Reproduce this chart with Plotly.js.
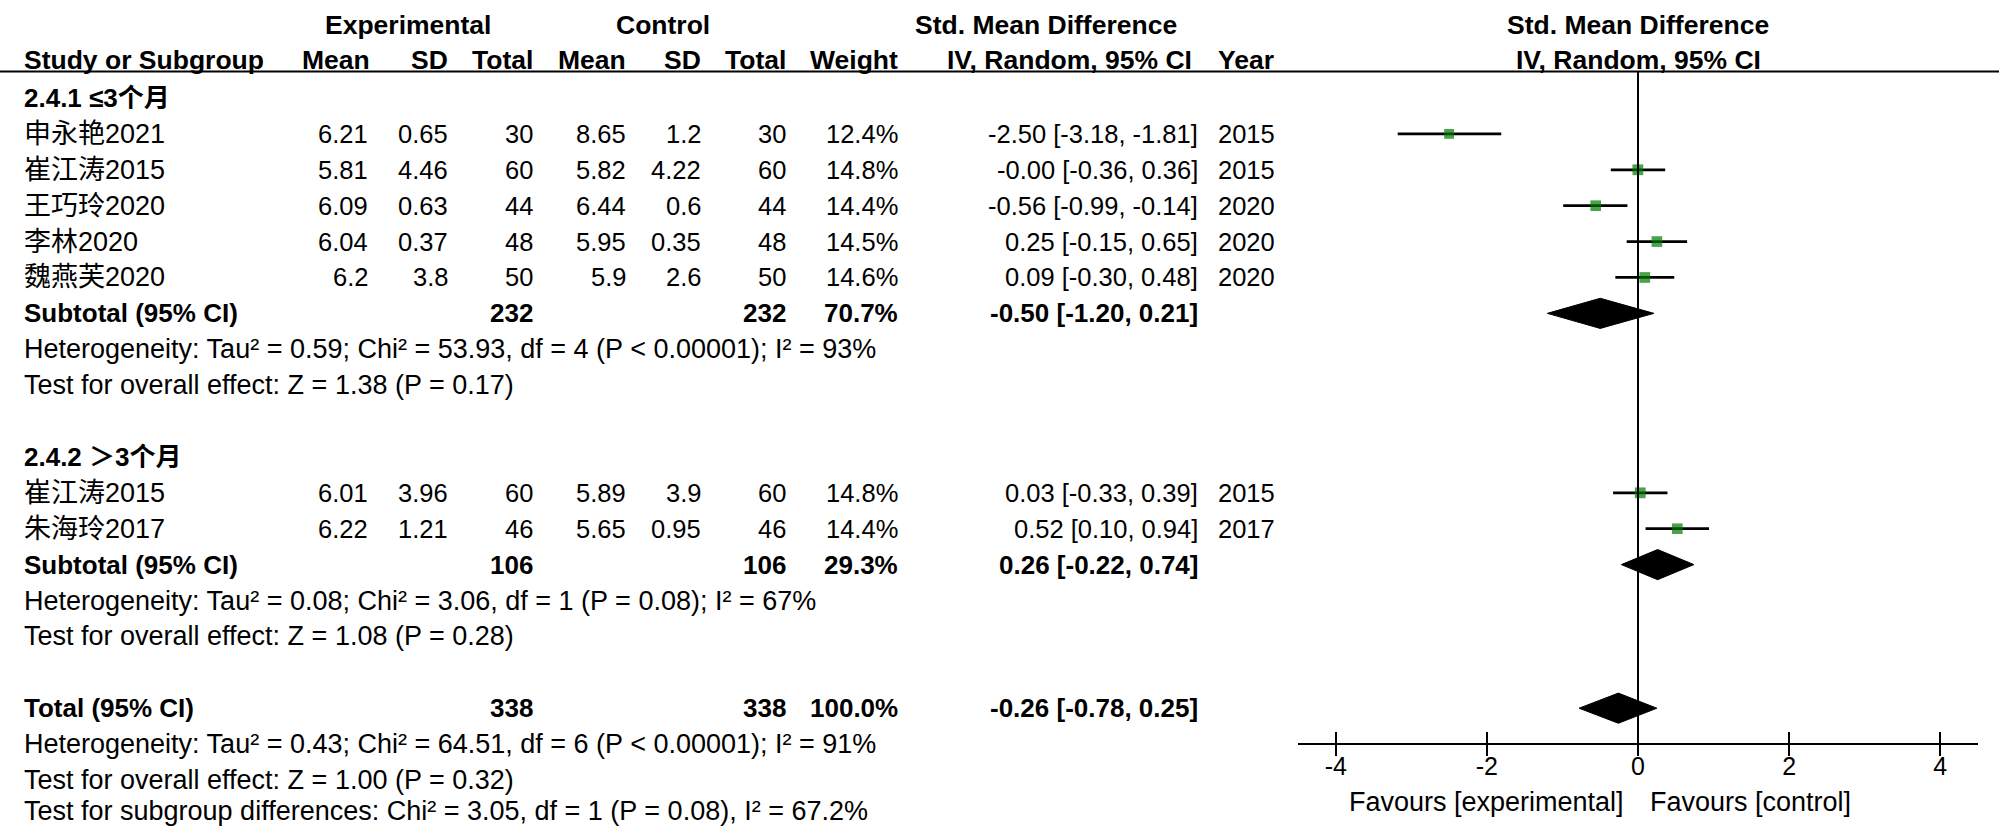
<!DOCTYPE html>
<html><head><meta charset="utf-8">
<script src="https://cdn.plot.ly/plotly-3.0.1.min.js"></script>
<style>html,body{margin:0;padding:0;background:#fff;} #chart{width:1999px;height:827px;}</style>
</head><body><div id="chart"></div>
<script>
// ---------------- DATA ----------------
const groupLabels = ['2.4.1 ≤3个月', '2.4.2 ＞3个月'];

const g1Studies = ['申永艳2021', '崔江涛2015', '王巧玲2020', '李林2020', '魏燕芙2020'];
const g1ExpMean = [6.21, 5.81, 6.09, 6.04, 6.2];
const g1ExpSD   = [0.65, 4.46, 0.63, 0.37, 3.8];
const g1ExpN    = [30, 60, 44, 48, 50];
const g1CtlMean = [8.65, 5.82, 6.44, 5.95, 5.9];
const g1CtlSD   = [1.2, 4.22, 0.6, 0.35, 2.6];
const g1CtlN    = [30, 60, 44, 48, 50];
const g1Weight  = [12.4, 14.8, 14.4, 14.5, 14.6];
const g1SMD     = [-2.50, -0.002, -0.56, 0.25, 0.09];
const g1Lo      = [-3.18, -0.36, -0.99, -0.15, -0.30];
const g1Hi      = [-1.81, 0.36, -0.14, 0.65, 0.48];
const g1Year    = [2015, 2015, 2020, 2020, 2020];

const g2Studies = ['崔江涛2015', '朱海玲2017'];
const g2ExpMean = [6.01, 6.22];
const g2ExpSD   = [3.96, 1.21];
const g2ExpN    = [60, 46];
const g2CtlMean = [5.89, 5.65];
const g2CtlSD   = [3.9, 0.95];
const g2CtlN    = [60, 46];
const g2Weight  = [14.8, 14.4];
const g2SMD     = [0.03, 0.52];
const g2Lo      = [-0.33, 0.10];
const g2Hi      = [0.39, 0.94];
const g2Year    = [2015, 2017];

const subExpN   = [232, 106];
const subCtlN   = [232, 106];
const subWeight = [70.7, 29.3];
const subSMD    = [-0.50, 0.26];
const subLo     = [-1.20, -0.22];
const subHi     = [0.21, 0.74];
const subHet    = ['Heterogeneity: Tau² = 0.59; Chi² = 53.93, df = 4 (P < 0.00001); I² = 93%',
                   'Heterogeneity: Tau² = 0.08; Chi² = 3.06, df = 1 (P = 0.08); I² = 67%'];
const subTest   = ['Test for overall effect: Z = 1.38 (P = 0.17)',
                   'Test for overall effect: Z = 1.08 (P = 0.28)'];

const totExpN   = [338];
const totCtlN   = [338];
const totWeight = [100.0];
const totSMD    = [-0.26];
const totLo     = [-0.78];
const totHi     = [0.25];
const totNotes  = ['Heterogeneity: Tau² = 0.43; Chi² = 64.51, df = 6 (P < 0.00001); I² = 91%',
                   'Test for overall effect: Z = 1.00 (P = 0.32)',
                   'Test for subgroup differences: Chi² = 3.05, df = 1 (P = 0.08), I² = 67.2%'];

const xTicks = [-4, -2, 0, 2, 4];
const favourLabels = ['Favours [experimental]', 'Favours [control]'];

// ---------------- LAYOUT HELPERS ----------------
const W = 1999, H = 827;
const FONT = 'Liberation Sans, Arial, "Noto Sans CJK SC", sans-serif';
const FS_TXT = 27, FS_NUM = 25.5, FS_BOLD = 26, FS_HEAD = 26.5;
const px = v => v / W;
const col = {study: 22, eMean: 370, eSD: 450, eN: 535, cMean: 628, cSD: 703, cN: 788, wt: 900, ci: 1200, year: 1216};

const groups = [
  {studies: g1Studies, em: g1ExpMean, es: g1ExpSD, en: g1ExpN, cm: g1CtlMean, cs: g1CtlSD, cn: g1CtlN, w: g1Weight, smd: g1SMD, lo: g1Lo, hi: g1Hi, yr: g1Year},
  {studies: g2Studies, em: g2ExpMean, es: g2ExpSD, en: g2ExpN, cm: g2CtlMean, cs: g2CtlSD, cn: g2CtlN, w: g2Weight, smd: g2SMD, lo: g2Lo, hi: g2Hi, yr: g2Year}
];

const ann = [];
function txt(x, y, t, anchor, kind, extra) {
  const bold = kind === 'b' || kind === 'h';
  const size = kind === 'h' ? FS_HEAD : kind === 'b' ? FS_BOLD : kind === 'n' ? FS_NUM : FS_TXT;
  ann.push(Object.assign({xref: 'paper', yref: 'y', x: px(x), y: y, text: bold ? '<b>' + t + '</b>' : t,
    xanchor: anchor, yanchor: 'middle', showarrow: false,
    font: {family: FONT, size: size, color: '#000'}}, extra || {}));
}
const ciText = (s, l, h) => s.toFixed(2) + ' [' + l.toFixed(2) + ', ' + h.toFixed(2) + ']';

// headers
txt(408, -2.03, 'Experimental', 'center', 'h');
txt(663, -2.03, 'Control', 'center', 'h');
txt(1046, -2.03, 'Std. Mean Difference', 'center', 'h');
txt(1638, -2.03, 'Std. Mean Difference', 'center', 'h');
txt(col.study, -1.06, 'Study or Subgroup', 'left', 'h');
txt(372, -1.06, 'Mean', 'right', 'h');
txt(col.eSD, -1.06, 'SD', 'right', 'h');
txt(col.eN, -1.06, 'Total', 'right', 'h');
txt(col.cMean, -1.06, 'Mean', 'right', 'h');
txt(col.cSD, -1.06, 'SD', 'right', 'h');
txt(col.cN, -1.06, 'Total', 'right', 'h');
txt(col.wt, -1.06, 'Weight', 'right', 'h');
txt(1069, -1.06, 'IV, Random, 95% CI', 'center', 'h');
txt(col.year, -1.06, 'Year', 'left', 'h');
txt(1638, -1.06, 'IV, Random, 95% CI', 'center', 'h');

// rows
const ciX = [], ciY = [], mX = [], mY = [], mS = [];
const diamonds = [];
let row = 0;
groups.forEach((g, gi) => {
  txt(col.study, row, groupLabels[gi], 'left', 'b');
  row++;
  g.studies.forEach((s, i) => {
    txt(col.study, row, s, 'left', 't');
    txt(col.eMean, row, String(g.em[i]), 'right', 'n');
    txt(col.eSD, row, String(g.es[i]), 'right', 'n');
    txt(col.eN, row, String(g.en[i]), 'right', 'n');
    txt(col.cMean, row, String(g.cm[i]), 'right', 'n');
    txt(col.cSD, row, String(g.cs[i]), 'right', 'n');
    txt(col.cN, row, String(g.cn[i]), 'right', 'n');
    txt(col.wt, row, g.w[i].toFixed(1) + '%', 'right', 'n');
    txt(col.ci, row, ciText(g.smd[i], g.lo[i], g.hi[i]), 'right', 'n');
    txt(col.year, row, String(g.yr[i]), 'left', 'n');
    ciX.push(g.lo[i], g.hi[i], null); ciY.push(row, row, null);
    mX.push(g.smd[i]); mY.push(row); mS.push(Math.sqrt(g.w[i]) * 2.8);
    row++;
  });
  txt(col.study, row, 'Subtotal (95% CI)', 'left', 'b');
  txt(col.eN, row, String(subExpN[gi]), 'right', 'b');
  txt(col.cN, row, String(subCtlN[gi]), 'right', 'b');
  txt(col.wt, row, subWeight[gi].toFixed(1) + '%', 'right', 'b');
  txt(col.ci, row, ciText(subSMD[gi], subLo[gi], subHi[gi]), 'right', 'b');
  diamonds.push([subLo[gi], subSMD[gi], subHi[gi], row]);
  row++;
  txt(col.study, row, subHet[gi], 'left', 't'); row++;
  txt(col.study, row, subTest[gi], 'left', 't'); row++;
  row++;
});
txt(col.study, row, 'Total (95% CI)', 'left', 'b');
txt(col.eN, row, String(totExpN[0]), 'right', 'b');
txt(col.cN, row, String(totCtlN[0]), 'right', 'b');
txt(col.wt, row, totWeight[0].toFixed(1) + '%', 'right', 'b');
txt(col.ci, row, ciText(totSMD[0], totLo[0], totHi[0]), 'right', 'b');
diamonds.push([totLo[0], totSMD[0], totHi[0], row]);
row++;
totNotes.forEach((t, i) => {
  txt(col.study, row, t, 'left', 't', i === totNotes.length - 1 ? {yshift: 5} : {});
  row++;
});

// favours labels
const favY = 1 - 802 / H;
ann.push({xref: 'x', yref: 'paper', x: 0, y: favY, text: favourLabels[0], xanchor: 'right', yanchor: 'middle',
  xshift: -12, showarrow: false, font: {family: FONT, size: FS_TXT, color: '#000'}});
ann.push({xref: 'x', yref: 'paper', x: 0, y: favY, text: favourLabels[1], xanchor: 'left', yanchor: 'middle',
  xshift: 10, showarrow: false, font: {family: FONT, size: FS_TXT, color: '#000'}});

// ---------------- TRACES ----------------
const traces = [];
traces.push({type: 'scatter', mode: 'lines', x: ciX, y: ciY, line: {color: '#000', width: 2.7},
  hoverinfo: 'skip', showlegend: false, xaxis: 'x', yaxis: 'y'});
traces.push({type: 'scatter', mode: 'markers', x: mX, y: mY,
  marker: {symbol: 'square', color: '#007a00', size: mS, line: {width: 0}},
  showlegend: false, xaxis: 'x', yaxis: 'y'});
const DH = 0.42;
diamonds.forEach(d => {
  traces.push({type: 'scatter', mode: 'lines', fill: 'toself', fillcolor: '#000',
    x: [d[0], d[1], d[2], d[1], d[0]], y: [d[3], d[3] - DH, d[3], d[3] + DH, d[3]],
    line: {color: '#000', width: 1}, showlegend: false, hoverinfo: 'skip', xaxis: 'x', yaxis: 'y'});
});
// invisible trace on overlay axis for downward ticks
traces.push({type: 'scatter', mode: 'markers', x: [0], y: [0], marker: {opacity: 0}, showlegend: false,
  hoverinfo: 'skip', xaxis: 'x2', yaxis: 'y'});

const axisY = 744;
const xLeftPx = 1298, xRightPx = 1978;
const xr = [-4.5, 4.5];

const layout = {
  width: W, height: H,
  margin: {l: 0, r: 0, t: 0, b: 0, pad: 0},
  paper_bgcolor: '#fff', plot_bgcolor: 'rgba(0,0,0,0)',
  showlegend: false,
  xaxis: {domain: [px(xLeftPx), px(xRightPx)], range: xr, anchor: 'free', position: 1 - axisY / H,
    showline: true, linecolor: '#000', linewidth: 2, showgrid: false, zeroline: false,
    tickmode: 'array', tickvals: xTicks, ticktext: xTicks.map(String),
    ticks: 'inside', ticklen: 11, tickwidth: 2, tickcolor: '#000', ticklabelstandoff: 0,
    tickfont: {family: FONT, size: 25, color: '#000'}, fixedrange: true},
  xaxis2: {overlaying: 'x', matches: 'x', anchor: 'free', position: 1 - axisY / H,
    showline: false, showgrid: false, zeroline: false,
    tickmode: 'array', tickvals: xTicks, ticks: 'outside', ticklen: 11, tickwidth: 2, tickcolor: '#000',
    showticklabels: false, fixedrange: true},
  yaxis: {domain: [0, 1], range: [20.31, -2.73], visible: false, fixedrange: true},
  shapes: [
    {type: 'line', xref: 'paper', yref: 'y', x0: 0, x1: 1, y0: -0.74, y1: -0.74, line: {color: '#000', width: 2}},
    {type: 'line', xref: 'x', yref: 'y', x0: 0, x1: 0, y0: -0.74, y1: (axisY - 98) / 35.9, line: {color: '#000', width: 2}}
  ],
  annotations: ann
};

Plotly.newPlot('chart', traces, layout, {staticPlot: true, displayModeBar: false});
</script></body></html>
